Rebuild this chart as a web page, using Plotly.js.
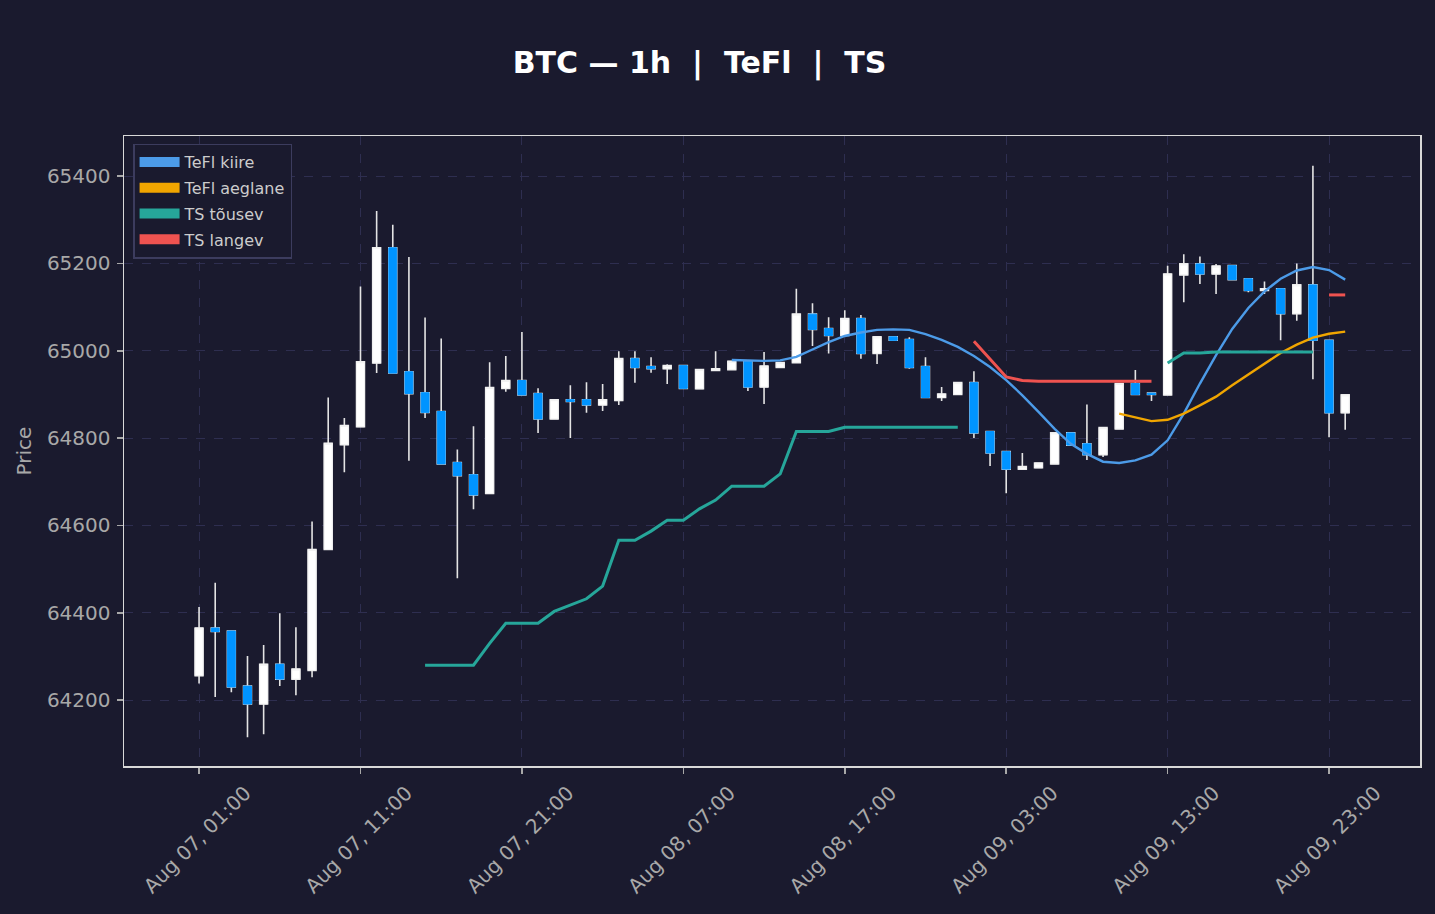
<!DOCTYPE html>
<html>
<head>
<meta charset="utf-8">
<script src="https://cdn.plot.ly/plotly-3.0.1.min.js"></script>
<style>
  html, body { margin: 0; padding: 0; background: #1a1a2e; }
  #chart { width: 1435px; height: 914px; }
</style>
</head>
<body>
<div id="chart"></div>
<script>
// hourly candles, Aug 07 01:00 .. Aug 10 00:00
var nCandles = 72;
var hours = [];
for (var h = 0; h < nCandles; h++) {
    var t = new Date(Date.UTC(2024, 7, 7, 1 + h));
    hours.push(t.toISOString().slice(0, 16).replace('T', ' '));
}

var opens  = [64256,64365,64358,64232,64191,64282,64248,64268,64545,64785,
              64826,64972,65236,64952,64904,64861,64744,64716,64673,64914,
              64932,64902,64844,64888,64888,64876,64886,64982,64964,64959,
              64966,64913,64955,64957,64976,64917,64962,64973,65084,65051,
              65035,65074,64994,65032,65026,64964,64893,64900,64927,64815,
              64769,64729,64732,64741,64812,64787,64762,64821,64925,64903,
              64899,65174,65199,65176,65195,65165,65138,65142,65085,65151,
              65024,64858];
var highs  = [64413,64469,64358,64301,64326,64399,64367,64609,64893,64846,
              65147,65320,65289,65215,65076,65028,64774,64827,64974,64988,
              65043,64914,64888,64921,64928,64924,64999,64999,64985,64969,
              64966,64957,64999,64976,64976,64997,64973,65142,65109,65077,
              65093,65082,65032,65034,65031,64985,64917,64927,64953,64815,
              64769,64766,64743,64812,64812,64877,64824,64925,64956,64903,
              65195,65221,65216,65199,65195,65165,65159,65142,65200,65424,
              65024,64899];
var lows   = [64238,64207,64218,64115,64122,64232,64211,64252,64545,64722,
              64826,64949,64949,64748,64846,64741,64479,64637,64673,64906,
              64899,64812,64844,64800,64858,64862,64876,64927,64950,64924,
              64914,64913,64955,64957,64908,64878,64962,64973,65011,64994,
              65035,64982,64970,65024,64959,64893,64885,64900,64800,64736,
              64674,64729,64732,64741,64784,64750,64757,64821,64900,64885,
              64899,65111,65153,65130,65163,65134,65130,65024,65069,64935,
              64802,64819];
var closes = [64365,64357,64230,64191,64282,64248,64271,64545,64788,64829,
              64975,65236,64949,64902,64859,64741,64714,64670,64916,64932,
              64899,64844,64888,64884,64876,64888,64982,64962,64959,64966,
              64914,64957,64959,64976,64917,64965,64973,65084,65049,65035,
              65074,64994,65032,65024,64962,64893,64901,64927,64812,64766,
              64729,64735,64743,64812,64784,64762,64824,64925,64900,64900,
              65176,65199,65176,65194,65163,65138,65142,65085,65151,65024,
              64858,64899];

// indicator lines: start index + values
var tefKiireStart = 33;
var tefKiire = [64979,64978,64977,64978,64986,65003,65020,65034,65042,65048,
                65049,65048,65038,65025,65009,64988,64963,64933,64898,64860,
                64821,64787,64764,64746,64743,64749,64762,64795,64856,64925,
                64990,65050,65098,65136,65165,65184,65192,65185,65163];
var tefAeglaneStart = 57;
var tefAeglane = [64856,64847,64839,64842,64856,64875,64895,64921,64946,64972,
                  64995,65014,65030,65039,65044];
var tsTousevAStart = 14;
var tsTousevA = [64280,64280,64280,64280,64330,64376,64376,64376,64403,64418,
                 64432,64461,64566,64566,64587,64612,64612,64638,64658,64690,
                 64690,64690,64718,64815,64815,64815,64825,64825,64825,64825,
                 64825,64825,64825,64825];
var tsTousevBStart = 60;
var tsTousevB = [64972,64995,64995,64997,64997,64997,64997,64997,64997,64997];
var tsLangevAStart = 48;
var tsLangevA = [65022,64980,64940,64932,64930,64930,64930,64930,64930,64930,64930,64930];
var tsLangevBStart = 70;
var tsLangevB = [65128,65128];

var yTicks = [64200,64400,64600,64800,65000,65200,65400];

function series(parts) {
    var out = hours.map(function () { return null; });
    parts.forEach(function (p) {
        p[1].forEach(function (v, k) { out[p[0] + k] = v; });
    });
    return out;
}

var bodyHigh = opens.map(function (o, i) { return Math.max(o, closes[i]); });
var bodyLow  = opens.map(function (o, i) { return Math.min(o, closes[i]); });

var upCol = '#ffffff', downCol = '#0094ff', wickCol = '#e4e4e4';
var cKiire = '#4c9be8', cAeglane = '#f0a500', cTousev = '#26a69a', cLangev = '#ef5350';

var data = [
    { // wicks
        type: 'candlestick', x: hours, open: opens, high: highs, low: lows, close: closes,
        increasing: { line: { color: wickCol, width: 1.6 }, fillcolor: upCol },
        decreasing: { line: { color: wickCol, width: 1.6 }, fillcolor: downCol },
        whiskerwidth: 0, showlegend: false, hoverinfo: 'skip'
    },
    { // bodies on top
        type: 'candlestick', x: hours, open: opens, high: bodyHigh, low: bodyLow, close: closes,
        increasing: { line: { color: '#f2f2f2', width: 1 }, fillcolor: upCol },
        decreasing: { line: { color: downCol, width: 1 }, fillcolor: downCol },
        whiskerwidth: 0, showlegend: false
    },
    { type: 'scatter', mode: 'lines', x: hours, y: series([[tefKiireStart, tefKiire]]),
      line: { color: cKiire, width: 2.4 }, showlegend: false },
    { type: 'scatter', mode: 'lines', x: hours, y: series([[tefAeglaneStart, tefAeglane]]),
      line: { color: cAeglane, width: 2.4 }, showlegend: false },
    { type: 'scatter', mode: 'lines', x: hours, y: series([[tsTousevAStart, tsTousevA], [tsTousevBStart, tsTousevB]]),
      line: { color: cTousev, width: 3 }, showlegend: false },
    { type: 'scatter', mode: 'lines', x: hours, y: series([[tsLangevAStart, tsLangevA], [tsLangevBStart, tsLangevB]]),
      line: { color: cLangev, width: 3 }, showlegend: false }
];

// legend swatches
[['TeFl kiire', cKiire], ['TeFl aeglane', cAeglane], ['TS tõusev', cTousev], ['TS langev', cLangev]]
    .forEach(function (e, i) {
        data.push({ type: 'scatter', mode: 'lines', x: [null], y: [null], name: e[0],
                    legendgroup: 'g' + i,
                    line: { color: e[1], width: 12 }, hoverinfo: 'skip' });
    });

var axisFont = { family: 'DejaVu Sans', size: 20, color: '#a8a8a8' };

var layout = {
    width: 1435, height: 914,
    paper_bgcolor: '#1a1a2e', plot_bgcolor: '#1a1a2e',
    margin: { l: 124, r: 15, t: 136, b: 148 },
    font: { family: 'DejaVu Sans', color: '#cccccc' },
    title: {
        text: 'BTC — 1h  |  TeFl  |  TS',
        font: { family: 'DejaVu Sans', size: 30, color: '#ffffff', weight: 'bold' },
        xref: 'container', x: 0.4875, xanchor: 'center',
        yref: 'container', y: 0.932, yanchor: 'middle'
    },
    showlegend: true,
    legend: {
        x: 0.007, y: 0.988, xanchor: 'left', yanchor: 'top',
        bgcolor: '#1a1a2e', bordercolor: '#3c3c5e', borderwidth: 1.5,
        font: { family: 'DejaVu Sans', size: 16, color: '#cccccc' },
        itemwidth: 40, tracegroupgap: 2
    },
    xaxis: {
        type: 'date',
        range: ['2024-08-06 20:21', '2024-08-10 04:38'],
        rangeslider: { visible: false },
        tick0: '2024-08-07 01:00', dtick: 36e5 * 10,
        tickformat: '%b %d, %H:%M', tickangle: -45,
        ticklabelshift: 46,
        tickfont: axisFont,
        ticks: 'outside', ticklen: 6, tickcolor: '#a8a8a8', tickwidth: 1.5,
        showgrid: true, gridcolor: '#2e2e50', griddash: 'dash', gridwidth: 1,
        showline: true, mirror: true, linecolor: '#d8d8d8', linewidth: 1.5,
        zeroline: false
    },
    yaxis: {
        range: [64049, 65492],
        tickvals: yTicks, tickformat: 'd',
        tickfont: axisFont, ticklabelstandoff: 2,
        ticks: 'outside', ticklen: 6, tickcolor: '#a8a8a8', tickwidth: 1.5,
        showgrid: true, gridcolor: '#2e2e50', griddash: 'dash', gridwidth: 1,
        showline: true, mirror: true, linecolor: '#d8d8d8', linewidth: 1.5,
        zeroline: false,
        title: { text: 'Price', font: { family: 'DejaVu Sans', size: 20, color: '#a8a8a8' }, standoff: 10 }
    }
};

Plotly.newPlot('chart', data, layout, { displayModeBar: false, staticPlot: true });
</script>
</body>
</html>
